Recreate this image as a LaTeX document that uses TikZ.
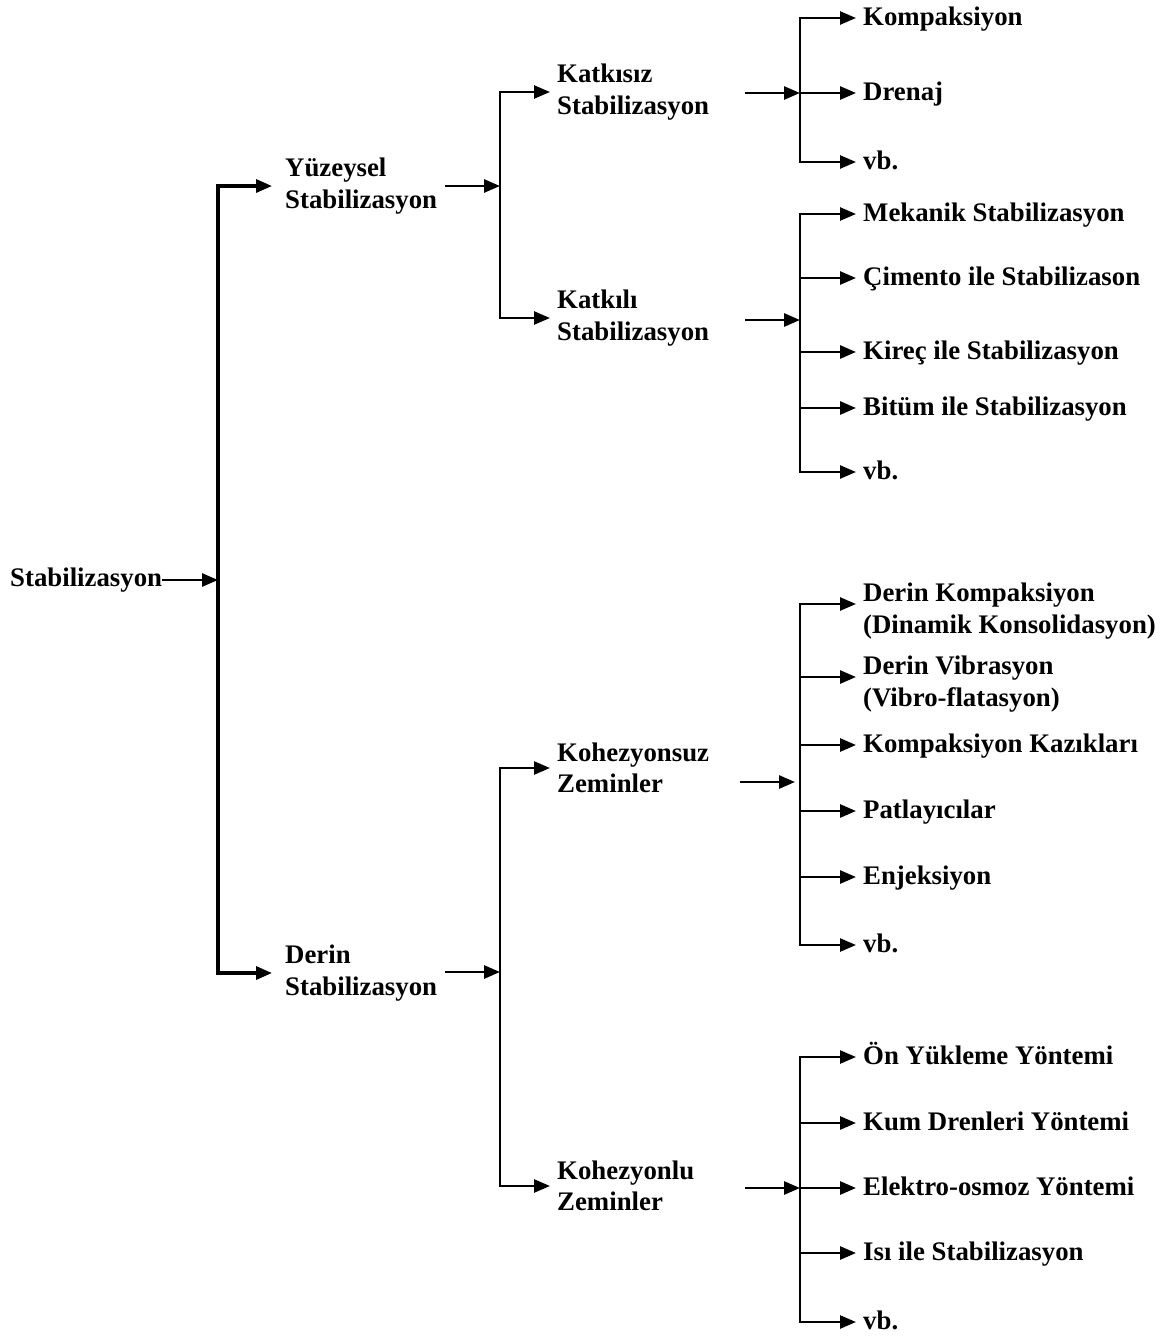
\documentclass[tikz,border=0pt]{standalone}
\usepackage{fontspec}
\setmainfont{Liberation Serif}
\usetikzlibrary{arrows.meta}

\tikzset{
  lbl/.style={anchor=west, align=left, inner sep=0pt, font=\bfseries\fontsize{26.8}{31.5}\selectfont},
  leaf/.style={anchor=west, inner sep=0pt, text height=14pt, text depth=0pt, font=\bfseries\fontsize{26.8}{31.5}\selectfont},
  arr/.style={line width=2.8pt, -{Triangle[length=16pt,width=13pt]}, shorten >=7pt},
  inarr/.style={line width=2.8pt, -{Triangle[length=16pt,width=13pt]}},
  fork/.style={line width=2.5pt, {Triangle[length=16pt,width=13pt]}-{Triangle[length=16pt,width=13pt]}, shorten <=7pt, shorten >=7pt},
}

\begin{document}
\begin{tikzpicture}[x=1pt,y=-1pt]
\useasboundingbox (0,0) rectangle (1161,1336);

% junction columns
\coordinate (t0) at (218,0);
\coordinate (t1) at (500,0);
\coordinate (t2) at (800,0);

% root and first level
\node[lbl] (root) at (10,580) {Stabilizasyon};
\node[lbl] (yuz) at (285,186) {Yüzeysel\\Stabilizasyon};
\node[lbl] (der) at (285,973) {Derin\\Stabilizasyon};

% second level
\node[lbl] (kkz) at (557,92) {Katkısız\\Stabilizasyon};
\node[lbl] (kkl) at (557,318) {Katkılı\\Stabilizasyon};
\node[lbl] (khs) at (557,768) {Kohezyonsuz\\Zeminler};
\node[lbl] (khl) at (557,1186) {Kohezyonlu\\Zeminler};

% leaves
\node[leaf] (kmp) at (863,18) {Kompaksiyon};
\node[leaf] (drn) at (863,93) {Drenaj};
\node[leaf] (vba) at (863,162) {vb.};

\node[leaf] (mek) at (863,214) {Mekanik Stabilizasyon};
\node[leaf] (cim) at (863,278) {Çimento ile Stabilizason};
\node[leaf] (kir) at (863,352) {Kireç ile Stabilizasyon};
\node[leaf] (bit) at (863,408) {Bitüm ile Stabilizasyon};
\node[leaf] (vbb) at (863,472) {vb.};

\node[lbl] (dkp) at (863,611) {Derin Kompaksiyon\\(Dinamik Konsolidasyon)};
\node[lbl] (dvb) at (863,684) {Derin Vibrasyon\\(Vibro-flatasyon)};
\node[leaf] (kkk) at (863,745) {Kompaksiyon Kazıkları};
\node[leaf] (ptl) at (863,811) {Patlayıcılar};
\node[leaf] (enj) at (863,877) {Enjeksiyon};
\node[leaf] (vbc) at (863,945) {vb.};

\node[leaf] (onn) at (863,1057) {Ön Yükleme Yöntemi};
\node[leaf] (kum) at (863,1123) {Kum Drenleri Yöntemi};
\node[leaf] (elk) at (863,1188) {Elektro-osmoz Yöntemi};
\node[leaf] (isi) at (863,1253) {Isı ile Stabilizasyon};
\node[leaf] (vbd) at (863,1322) {vb.};

% arrow starts
\coordinate (s1) at (445,186);
\coordinate (s2) at (445,972);
\coordinate (s3) at (745,93);
\coordinate (s4) at (745,320);
\coordinate (s5) at (740,782);
\coordinate (s6) at (745,1188);

% connectors
\draw[inarr] (root.east) -- (root.east -| t0);
\draw[fork, line width=3.2pt, shorten <=13pt, shorten >=13pt] (yuz.west) -| (t0 |- der.west) -- (der.west);

\draw[inarr] (s1) -- (s1 -| t1);
\draw[fork] (kkz.west) -| (t1 |- kkl.west) -- (kkl.west);
\draw[inarr] (s2) -- (s2 -| t1);
\draw[fork] (khs.west) -| (t1 |- khl.west) -- (khl.west);

\draw[inarr] (s3) -- (s3 -| t2);
\draw[fork] (kmp.west) -| (t2 |- vba.west) -- (vba.west);
\draw[arr] (t2 |- drn.west) -- (drn.west);

\draw[inarr] (s4) -- (s4 -| t2);
\draw[fork] (mek.west) -| (t2 |- vbb.west) -- (vbb.west);
\foreach \n in {cim,kir,bit}
  \draw[arr] (t2 |- \n.west) -- (\n.west);

\draw[inarr, shorten >=5pt] (s5) -- (s5 -| t2);
\draw[fork] ([yshift=7pt]dkp.west) -| (t2 |- vbc.west) -- (vbc.west);
\draw[arr] ([yshift=7pt]dvb.west -| t2) -- ([yshift=7pt]dvb.west);
\foreach \n in {kkk,ptl,enj}
  \draw[arr] (t2 |- \n.west) -- (\n.west);

\draw[inarr] (s6) -- (s6 -| t2);
\draw[fork] (onn.west) -| (t2 |- vbd.west) -- (vbd.west);
\foreach \n in {kum,elk,isi}
  \draw[arr] (t2 |- \n.west) -- (\n.west);
\end{tikzpicture}
\end{document}
